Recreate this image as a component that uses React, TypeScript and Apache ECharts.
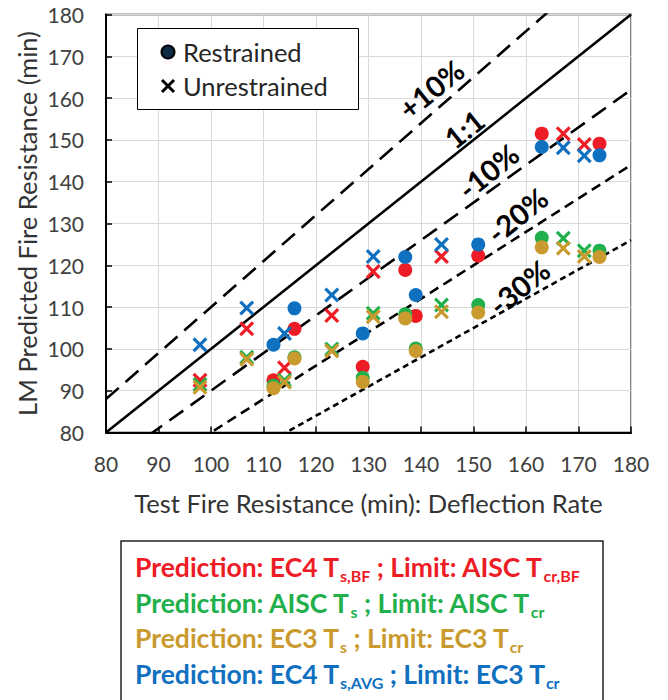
import React, { useEffect, useRef } from "react";
import * as echarts from "echarts";

// Test fire resistance (x) for restrained (circle) and unrestrained (cross) specimens
const xRestrained = [111.9, 115.9, 128.9, 137.0, 139.0, 150.9, 163.0, 174.0];
const xUnrestrained = [97.9, 106.8, 114.0, 123.0, 130.9, 143.9, 167.1, 171.1];

// Predicted fire resistance (y)
const redRestrained = [92.5, 104.8, 95.7, 118.9, 107.9, 122.3, 151.5, 149.1];
const greenRestrained = [91.2, 98.0, 93.1, 108.3, 100.1, 110.5, 126.6, 123.5];
const goldRestrained = [90.6, 97.7, 92.1, 107.3, 99.5, 108.7, 124.3, 122.0];
const blueRestrained = [101.0, 109.7, 103.7, 122.0, 112.9, 125.0, 148.3, 146.3];

const redUnrestrained = [92.5, 104.8, 95.5, 108.0, 118.5, 122.1, 151.5, 148.9];
const greenUnrestrained = [91.5, 98.0, 92.5, 100.0, 108.5, 110.5, 126.5, 123.5];
const goldUnrestrained = [90.8, 97.5, 92.0, 99.5, 107.7, 108.9, 124.1, 122.1];
const blueUnrestrained = [101.0, 109.8, 103.7, 112.9, 122.1, 125.0, 148.1, 146.2];

// Reference lines: ratio of predicted/test
const refRatios = [1.1, 1.0, 0.9, 0.8, 0.7];
const refLabels = ["+10%", "1:1", "-10%", "-20%", "-30%"];

const xTicks = { min: 80, max: 180, interval: 10 };
const yTicks = { min: 80, max: 180, interval: 10 };

const RED = "#EE1C25";
const GREEN = "#21B04B";
const GOLD = "#C99A2E";
const BLUE = "#1070C0";

const CROSS =
  "path://M0,1.8L1.8,0L6,4.2L10.2,0L12,1.8L7.8,6L12,10.2L10.2,12L6,7.8L1.8,12L0,10.2L4.2,6Z";

const FONT = "Lato";

function pairs(xs: number[], ys: number[]) {
  return xs.map((x, i) => [x, ys[i]]);
}

export default function App() {
  const ref = useRef<HTMLDivElement>(null);

  useEffect(() => {
    if (!ref.current) return;
    const chart = echarts.init(ref.current, undefined, { renderer: "svg" });

    const lineStyles: any[] = [
      { type: [17, 9], width: 2.6 },
      { type: "solid", width: 2.6 },
      { type: [17, 9], width: 2.6 },
      { type: [10, 6], width: 2.6 },
      { type: [6, 4], width: 2.6 },
    ];

    const refSeries = refRatios.map((r, i) => ({
      type: "line",
      name: refLabels[i],
      data: [
        [xTicks.min, xTicks.min * r],
        [xTicks.max, xTicks.max * r],
      ],
      symbol: "none",
      clip: true,
      silent: true,
      lineStyle: { color: "#000", ...lineStyles[i] },
      z: 2,
    }));

    const scatter = (
      xs: number[],
      ys: number[],
      color: string,
      cross: boolean
    ) => ({
      type: "scatter",
      data: pairs(xs, ys),
      symbol: cross ? CROSS : "circle",
      symbolSize: cross ? 15 : 14,
      itemStyle: { color, opacity: 1 },
      z: 3,
    });

    const labelPos = [
      [431, 89],
      [464, 129],
      [488, 171],
      [517, 215],
      [519, 287],
    ];
    const rot = (39 * Math.PI) / 180;

    const legendLines = [
      {
        color: RED,
        text: "{m|Prediction: EC4 T}{s|s,BF}{m| ; Limit: AISC T}{s|cr,BF}",
        y: 567,
      },
      {
        color: GREEN,
        text: "{m|Prediction: AISC T}{s|s}{m| ; Limit: AISC T}{s|cr}",
        y: 602.5,
      },
      {
        color: GOLD,
        text: "{m|Prediction: EC3 T}{s|s}{m| ; Limit: EC3 T}{s|cr}",
        y: 638,
      },
      {
        color: BLUE,
        text: "{m|Prediction: EC4 T}{s|s,AVG}{m| ; Limit: EC3 T}{s|cr}",
        y: 673.5,
      },
    ];

    const axisCommon = {
      type: "value",
      axisLine: { show: true, onZero: false, lineStyle: { color: "#000", width: 2 } },
      axisTick: { show: true, inside: true, length: 6, lineStyle: { color: "#000", width: 1.5 } },
      splitLine: { show: true, lineStyle: { color: "#D9D9D9", width: 1 } },
      nameLocation: "middle",
      nameMoveOverlap: false,
    };

    chart.setOption({
      animation: false,
      backgroundColor: "#fff",
      grid: {
        left: 106,
        right: 37,
        top: 14.5,
        bottom: 267.5,
        show: true,
        containLabel: false,
        outerBoundsMode: "none",
        borderColor: "#7F7F7F",
        borderWidth: 2,
        backgroundColor: "transparent",
      },
      xAxis: {
        ...axisCommon,
        ...xTicks,
        name: "Test Fire Resistance (min): Deflection Rate",
        nameGap: 57,
        nameTextStyle: { fontSize: 25.5, color: "#333", fontFamily: FONT },
        axisLabel: { fontSize: 21, color: "#404040", fontFamily: FONT, margin: 20 },
      },
      yAxis: {
        ...axisCommon,
        ...yTicks,
        name: "LM Predicted Fire Resistance (min)",
        nameGap: 66,
        nameTextStyle: { fontSize: 25.5, color: "#333", fontFamily: FONT },
        axisLabel: { fontSize: 21, color: "#404040", fontFamily: FONT, margin: 22 },
      },
      series: [
        ...refSeries,
        scatter(xRestrained, redRestrained, RED, false),
        scatter(xUnrestrained, redUnrestrained, RED, true),
        scatter(xRestrained, greenRestrained, GREEN, false),
        scatter(xUnrestrained, greenUnrestrained, GREEN, true),
        scatter(xRestrained, goldRestrained, GOLD, false),
        scatter(xUnrestrained, goldUnrestrained, GOLD, true),
        scatter(xRestrained, blueRestrained, BLUE, false),
        scatter(xUnrestrained, blueUnrestrained, BLUE, true),
      ],
      graphic: [
        // line labels
        ...refLabels.map((t, i) => ({
          type: "text",
          x: labelPos[i][0],
          y: labelPos[i][1],
          rotation: rot,
          z: 10,
          style: {
            text: t,
            fill: "#000",
            fontSize: 29,
            fontWeight: "bold",
            fontFamily: FONT,
            align: "center",
            verticalAlign: "middle",
          },
        })),
        // top-left legend box
        {
          type: "rect",
          z: 20,
          shape: { x: 137.5, y: 28.5, width: 221, height: 81 },
          style: { fill: "#fff", stroke: "#000", lineWidth: 1 },
        },
        {
          type: "circle",
          z: 21,
          shape: { cx: 168, cy: 52, r: 6.5 },
          style: { fill: "#0E2A47", stroke: "#000", lineWidth: 2 },
        },
        {
          type: "line",
          z: 21,
          shape: { x1: 162, y1: 80, x2: 174, y2: 92 },
          style: { stroke: "#000", lineWidth: 3 },
        },
        {
          type: "line",
          z: 21,
          shape: { x1: 174, y1: 80, x2: 162, y2: 92 },
          style: { stroke: "#000", lineWidth: 3 },
        },
        {
          type: "text",
          z: 21,
          x: 183,
          y: 52,
          style: {
            text: "Restrained",
            fill: "#262626",
            fontSize: 25.5,
            fontFamily: FONT,
            verticalAlign: "middle",
          },
        },
        {
          type: "text",
          z: 21,
          x: 183,
          y: 86,
          style: {
            text: "Unrestrained",
            fill: "#262626",
            fontSize: 25.5,
            fontFamily: FONT,
            verticalAlign: "middle",
          },
        },
        // bottom legend box
        {
          type: "rect",
          z: 20,
          shape: { x: 121, y: 541, width: 482, height: 180 },
          style: { fill: "#fff", stroke: "#222", lineWidth: 1.5 },
        },
        ...legendLines.map((l) => ({
          type: "text",
          z: 21,
          x: 135,
          y: l.y,
          style: {
            text: l.text,
            align: "left",
            verticalAlign: "middle",
            rich: {
              m: {
                fill: l.color,
                fontSize: 26.5,
                fontWeight: "bold",
                fontFamily: FONT,
              },
              s: {
                fill: l.color,
                fontSize: 16,
                fontWeight: "bold",
                fontFamily: FONT,
                padding: [17, 0, 0, 0],
              },
            },
          },
        })),
      ],
    });

    return () => chart.dispose();
  }, []);

  return (
    <div
      ref={ref}
      style={{ position: "fixed", left: 0, top: 0, width: 668, height: 700 }}
    />
  );
}
